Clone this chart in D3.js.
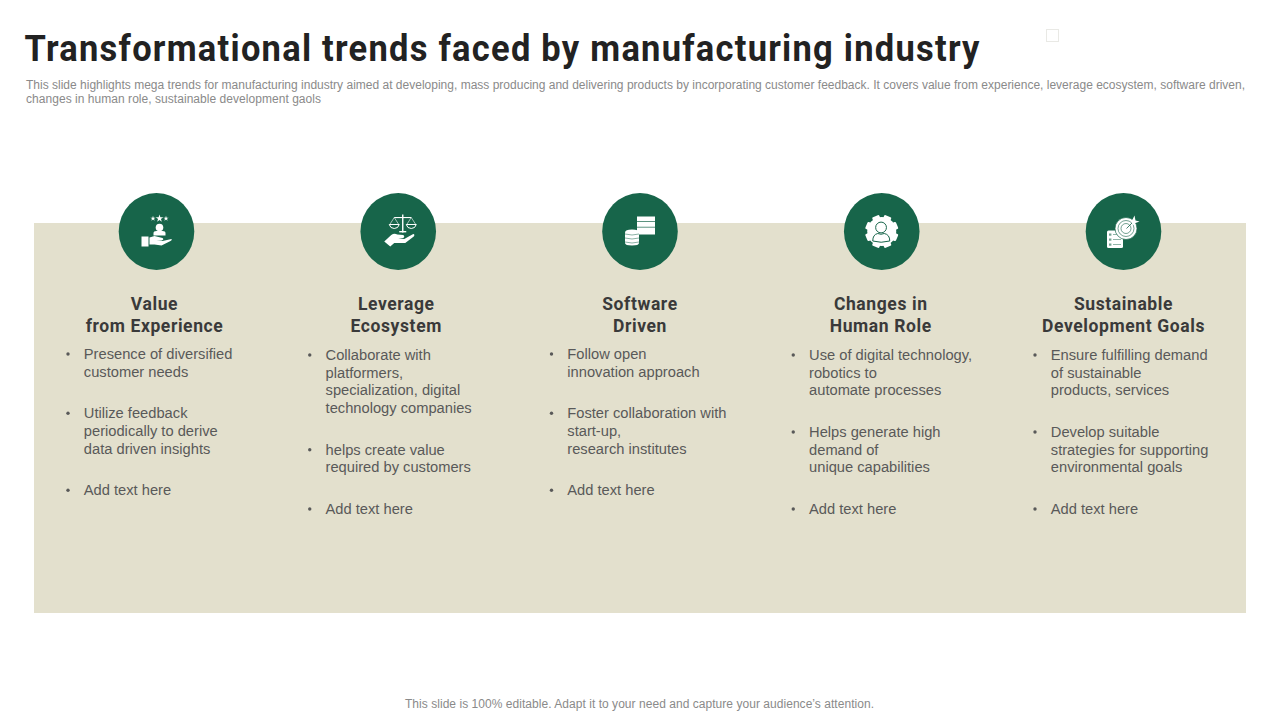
<!DOCTYPE html>
<html><head><meta charset="utf-8">
<script src="https://cdn.jsdelivr.net/npm/d3@7/dist/d3.min.js"></script>
<style>html,body{margin:0;padding:0;background:#fff;overflow:hidden}svg{display:block}</style>
</head><body><svg id="c" width="1280" height="720"></svg>
<script>
const titleText = "Transformational trends faced by manufacturing industry";
const subtitleLines = [
 "This slide highlights mega trends for manufacturing industry aimed at developing, mass producing and delivering products by incorporating customer feedback. It covers value from experience, leverage ecosystem, software driven,",
 "changes in human role, sustainable development gaols"];
const footerText = "This slide is 100% editable. Adapt it to your need and capture your audience\u2019s attention.";
const categories = ["value","leverage","software","human","goals"];
const headings = [["Value","from Experience"],["Leverage","Ecosystem"],["Software","Driven"],["Changes in","Human Role"],["Sustainable","Development Goals"]];
const bullets = [
 [["Presence of diversified","customer needs"],["Utilize feedback","periodically to derive","data driven insights"],["Add text here"]],
 [["Collaborate with","platformers,","specialization, digital","technology companies"],["helps create value","required by customers"],["Add text here"]],
 [["Follow open","innovation approach"],["Foster collaboration with","start-up,","research institutes"],["Add text here"]],
 [["Use of digital technology,","robotics to","automate processes"],["Helps generate high","demand of","unique capabilities"],["Add text here"]],
 [["Ensure fulfilling demand","of sustainable","products, services"],["Develop suitable","strategies for supporting","environmental goals"],["Add text here"]]
];

const GREEN="#17654A", W="#fff";
const svg=d3.select("#c");
const x=d3.scalePoint().domain(categories).range([156.5,1123.5]);
const headX=[-2,-2,0,-1,0];
const startY=[354,355,354,355,355];

svg.append("text").attr("transform","translate(24.5,60.5) scale(.92,1)").attr("font-family","Roboto, sans-serif").attr("font-weight",700)
 .attr("font-size",37.5).attr("fill","#222").attr("textLength",955/.92).attr("lengthAdjust","spacing").text(titleText);
const subW=[1219,295];
svg.selectAll(".sub").data(subtitleLines).join("text").attr("class","sub").attr("x",26).attr("y",(d,i)=>89+i*14)
 .attr("font-family","Liberation Sans, Arial, sans-serif").attr("font-size",12).attr("fill","#8a8a8a")
 .attr("textLength",(d,i)=>subW[i]).attr("lengthAdjust","spacing").text(d=>d);
svg.append("rect").attr("x",1046.5).attr("y",29.5).attr("width",12).attr("height",12).attr("fill","#fff").attr("stroke","#e9e9e5");
svg.append("rect").attr("x",34).attr("y",223).attr("width",1212).attr("height",390).attr("fill","#E3E0CD");
svg.append("text").attr("x",405).attr("y",708).attr("font-family","Liberation Sans, Arial, sans-serif")
 .attr("font-size",12).attr("fill","#8a8a8a").attr("textLength",469).attr("lengthAdjust","spacing").text(footerText);

const icons={
 value(g){
  [[-3.5,1.3],[3,1.9],[9.5,1.3]].forEach(([sx,r])=>g.append("path").attr("transform",`translate(${sx},-13)`).attr("d",d3.symbol(d3.symbolStar,r*r*5)()).attr("fill",W));
  g.append("circle").attr("cx",3).attr("cy",-4).attr("r",3.8).attr("fill",W);
  g.append("path").attr("d","M-3 4V1.5Q-3 -.5 0 -.5H6Q9 -.5 9 1.5V4Z").attr("fill",W);
  g.append("rect").attr("x",-15).attr("y",5).attr("width",7).attr("height",10).attr("fill",W);
  g.append("path").attr("d","M-7 6L-2 4.5L6 6.5Q8 8 5 9L0 9L6 9.5L15 7.5Q16 8.5 14 9.5L5 14L-2 13L-7 13Z").attr("fill",W);
 },
 leverage(g){
  g.append("rect").attr("x",3.8).attr("y",-17).attr("width",1.4).attr("height",18).attr("fill",W);
  g.append("rect").attr("x",1).attr("y",-.5).attr("width",7).attr("height",1.4).attr("fill",W);
  g.append("rect").attr("x",-4).attr("y",-14.5).attr("width",17).attr("height",1.1).attr("fill",W);
  [-4,13].forEach(c=>{
   g.append("path").attr("d",`M${c-4.5} -7L${c} -14L${c+4.5} -7`).attr("fill","none").attr("stroke",W).attr("stroke-width",.6);
   g.append("path").attr("d",`M${c-5} -7H${c+5}Q${c+4} -3 ${c} -3Q${c-4} -3 ${c-5} -7Z`).attr("fill","none").attr("stroke",W).attr("stroke-width",1);
  });
  g.append("path").attr("d","M-14 10L-7 3.5Q-4 1.5 -1 3L5 3.5Q7 5 5 6.5L0 7L6 7.5L15 2.5Q17 3 15.5 5L7 11.5L-4 11.5L-8 15Z").attr("fill",W);
 },
 software(g){
  [-15,-9.5,-4,.5].forEach((yy,i)=>g.append("rect").attr("x",-3).attr("y",yy).attr("width",18).attr("height",i==3?2.5:4.8).attr("fill",W));
  g.append("path").attr("d","M-15 1Q-15 -2 -8 -2Q-1 -2 -1 1V11.5Q-1 14 -8 14Q-15 14 -15 11.5Z").attr("fill",W);
  [2.5,6.5,10.5].forEach(yy=>g.append("path").attr("d",`M-15 ${yy}Q-8 ${yy+2} -1 ${yy}`).attr("fill","none").attr("stroke",GREEN).attr("stroke-width",.5));
 },
 human(g){
  d3.range(8).forEach(i=>g.append("rect").attr("x",-3.8).attr("y",-16.6).attr("width",7.6).attr("height",6).attr("rx",1.2).attr("fill",W).attr("transform",`rotate(${22.5+i*45})`));
  g.append("circle").attr("r",14.5).attr("fill",W);
  g.append("circle").attr("cx",-.7).attr("cy",-4).attr("r",5.4).attr("fill","none").attr("stroke",GREEN).attr("stroke-width",1);
  g.append("path").attr("d","M-9 9.5Q-9 3 -4 2Q-.7 3.5 2.5 2Q8 3 8 9.5Q-.7 12 -9 9.5Z").attr("fill","none").attr("stroke",GREEN).attr("stroke-width",1);
 },
 goals(g){
  g.append("rect").attr("x",-16.5).attr("y",-1).attr("width",16).attr("height",17.5).attr("rx",1.5).attr("fill",W);
  [3,8,13].forEach(yy=>{
   g.append("rect").attr("x",-14.5).attr("y",yy-1).attr("width",2.4).attr("height",2.2).attr("fill",GREEN).attr("opacity",.6);
   g.append("rect").attr("x",-10.5).attr("y",yy-.3).attr("width",8).attr("height",.8).attr("fill",GREEN).attr("opacity",.6);
  });
  g.append("circle").attr("cx",2.5).attr("cy",-3).attr("r",11).attr("fill",W).attr("stroke",GREEN).attr("stroke-width",.7);
  [8,5].forEach(r=>g.append("circle").attr("cx",2.5).attr("cy",-3).attr("r",r).attr("fill","none").attr("stroke",GREEN).attr("stroke-width",.6));
  g.append("path").attr("d","M3 -3L11 -11").attr("stroke",GREEN).attr("stroke-width",.8);
  g.append("path").attr("d","M8 -10L11 -16L12 -11L16 -10L12 -8.5L9 -6Z").attr("fill",W);
 }
};

const cols=svg.selectAll(".col").data(categories).join("g").attr("class","col");
cols.each(function(k,i){
 const g=d3.select(this), cx=x(k);
 g.append("ellipse").attr("cx",cx).attr("cy",231.5).attr("rx",37.8).attr("ry",38.5).attr("fill",GREEN);
 icons[k](g.append("g").attr("transform",`translate(${cx},231.5)`));
 g.selectAll(".h").data(headings[i]).join("text").attr("class","h").attr("x",cx+headX[i]).attr("y",(d,j)=>310+j*22)
  .attr("text-anchor","middle").attr("font-family","Roboto, sans-serif").attr("font-weight",700).attr("font-size",17.5)
  .attr("letter-spacing",.6).attr("fill","#3a3a3a").text(d=>d);
 let y=startY[i]+5;
 bullets[i].forEach(par=>{
  g.append("circle").attr("cx",cx-88.5).attr("cy",y-5).attr("r",1.7).attr("fill","#595959");
  par.forEach((line,j)=>{
   g.append("text").attr("x",cx-72.7).attr("y",y).attr("font-family","Liberation Sans, Arial, sans-serif")
    .attr("font-size",14.7).attr("fill","#595959").text(line);
   y+= j<par.length-1?17.7:41.6;
  });
 });
});
</script></body></html>
